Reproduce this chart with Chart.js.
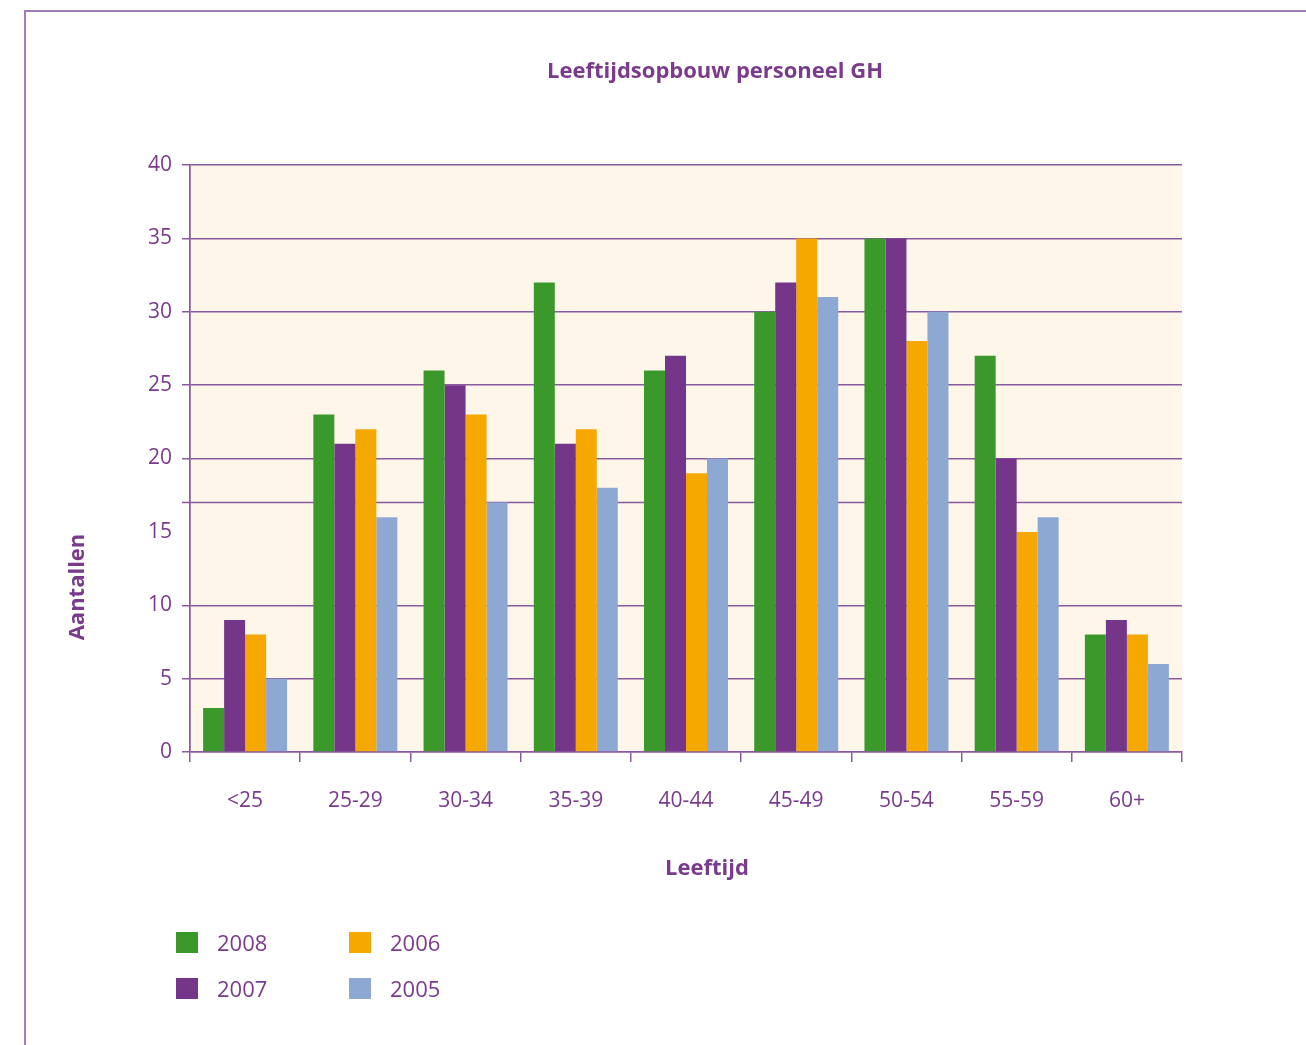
<!DOCTYPE html>
<html>
<head>
<meta charset="utf-8">
<script src="https://cdn.jsdelivr.net/npm/chart.js@4/dist/chart.umd.min.js"></script>
<style>
  html, body { margin: 0; padding: 0; background: #ffffff; }
  #wrap { position: relative; width: 1306px; height: 1045px; overflow: hidden; }
  #frame { position: absolute; left: 24px; top: 10px; width: 1290px; height: 1100px;
           border-top: 2px solid #a57bb6; border-left: 2px solid #a57bb6; }
  canvas { position: absolute; left: 0; top: 0; }
  #legend { position: absolute; left: 176px; top: 931px; display: grid;
            grid-template-columns: 173px 173px; row-gap: 24px;
            font-family: "Open Sans", sans-serif; font-size: 22px; color: #7a3b8c; }
  .item { display: flex; align-items: center; height: 22px; }
  .sw { width: 22px; height: 21px; margin-right: 19px; }
</style>
</head>
<body>
<div id="wrap">
  <div id="frame"></div>
  <canvas id="c" width="1306" height="1045"></canvas>
  <div id="legend"></div>
</div>
<script>
// Age groups and head counts per year
const categories = ['<25', '25-29', '30-34', '35-39', '40-44', '45-49', '50-54', '55-59', '60+'];
const years = ['2008', '2007', '2006', '2005'];
const values2008 = [3, 23, 26, 32, 26, 30, 35, 27, 8];
const values2007 = [9, 21, 25, 21, 27, 32, 35, 20, 9];
const values2006 = [8, 22, 23, 22, 19, 35, 28, 15, 8];
const values2005 = [5, 16, 17, 18, 20, 31, 30, 16, 6];
const yTicks = [0, 5, 10, 15, 20, 25, 30, 35, 40];
// the chart's extra horizontal rule sits at this level instead of at 15
const extraRule = 17.05;

const colors = ['#3b992c', '#75368a', '#f5a800', '#8da8d3'];
const textColor = '#7a3b8c';
const lineColor = '#8a5a9e';
const seriesValues = [values2008, values2007, values2006, values2005];

const datasets = years.map((y, i) => ({
  label: y,
  data: seriesValues[i],
  backgroundColor: colors[i],
  borderWidth: 0,
  categoryPercentage: 0.762,
  barPercentage: 1.0
}));

// plot background, extra horizontal rule, chart title and axis titles
const plotDecor = {
  id: 'plotDecor',
  beforeDraw(chart) {
    const { ctx, chartArea: a } = chart;
    ctx.save();
    ctx.fillStyle = '#fef6e9';
    ctx.fillRect(a.left, a.top, a.right - a.left, a.bottom - a.top);
    ctx.restore();
  },
  beforeDatasetsDraw(chart) {
    const { ctx, chartArea: a, scales } = chart;
    const yp = Math.round(scales.y.getPixelForValue(extraRule)) + 0.5;
    ctx.save();
    ctx.strokeStyle = lineColor;
    ctx.lineWidth = 1.5;
    ctx.beginPath();
    ctx.moveTo(a.left - 8, yp);
    ctx.lineTo(a.right, yp);
    ctx.stroke();
    ctx.restore();
  },
  afterDraw(chart) {
    const { ctx } = chart;
    ctx.save();
    ctx.fillStyle = textColor;
    ctx.textAlign = 'center';
    ctx.textBaseline = 'middle';
    ctx.font = 'bold 22px "Open Sans", sans-serif';
    ctx.fillText('Leeftijdsopbouw personeel GH', 715, 72);
    ctx.fillText('Leeftijd', 707, 869);
    ctx.translate(78, 587);
    ctx.rotate(-Math.PI / 2);
    ctx.fillText('Aantallen', 0, 0);
    ctx.restore();
  }
};

new Chart(document.getElementById('c'), {
  type: 'bar',
  data: { labels: categories, datasets },
  options: {
    responsive: false,
    animation: false,
    layout: { padding: { left: 0, right: 124, top: 165, bottom: 0 } },
    plugins: {
      legend: { display: false },
      tooltip: { enabled: false },
      title: { display: false }
    },
    scales: {
      x: {
        afterFit(scale) { scale.height = 293; },
        grid: {
          offset: true,
          drawOnChartArea: true,
          color: ctx => (ctx.index === 0 || ctx.index === categories.length) ? lineColor : 'rgba(0,0,0,0)',
          tickColor: lineColor,
          tickLength: 10,
          lineWidth: 1.5
        },
        border: { display: true, color: lineColor, width: 1.5 },
        ticks: {
          color: textColor,
          font: { family: 'Open Sans', size: 21, lineHeight: 1.2 },
          padding: 26,
          maxRotation: 0
        }
      },
      y: {
        min: 0,
        max: 40,
        afterFit(scale) { scale.width = 190; },
        afterBuildTicks(scale) { scale.ticks = yTicks.map(v => ({ value: v })); },
        grid: {
          color: ctx => (ctx.tick && ctx.tick.value === 15) ? 'rgba(0,0,0,0)' : lineColor,
          tickColor: ctx => (ctx.tick && ctx.tick.value === 15) ? 'rgba(0,0,0,0)' : lineColor,
          tickLength: 8,
          lineWidth: 1.5
        },
        border: { display: true, color: lineColor, width: 1.5 },
        ticks: {
          color: textColor,
          font: { family: 'Open Sans', size: 21 },
          padding: 10
        }
      }
    }
  },
  plugins: [plotDecor]
});

// legend laid out in two columns: 2008, 2006 / 2007, 2005
const legendOrder = [0, 2, 1, 3];
const legend = document.getElementById('legend');
legendOrder.forEach(i => {
  const item = document.createElement('div');
  item.className = 'item';
  const sw = document.createElement('span');
  sw.className = 'sw';
  sw.style.background = colors[i];
  const tx = document.createElement('span');
  tx.textContent = years[i];
  item.appendChild(sw);
  item.appendChild(tx);
  legend.appendChild(item);
});
</script>
</body>
</html>
